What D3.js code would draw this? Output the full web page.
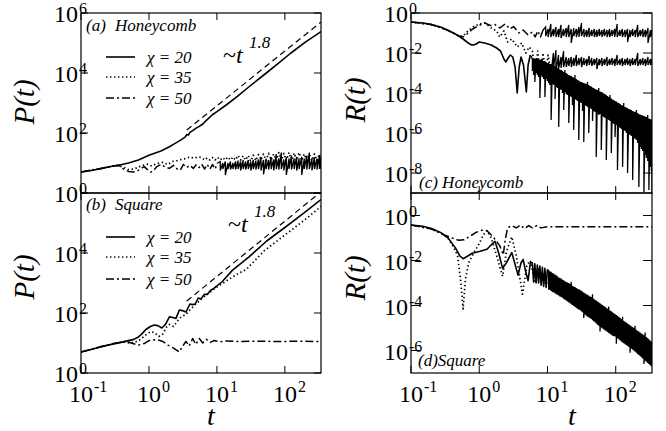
<!DOCTYPE html>
<html>
<head>
<meta charset="utf-8">
<script src="https://cdn.jsdelivr.net/npm/d3@7"></script>
<style>
  body { margin: 0; background: #fff; }
  svg { display: block; }
  svg text { font-family: "Liberation Serif", "Times New Roman", serif; fill: #000; }
</style>
</head>
<body>
<svg id="chart" width="666" height="431"></svg>
<script>
// values: each row is [t, log10 value];
// where the curve oscillates faster than the eye can follow a row is [t, log10 max, log10 min]

//x ticks (exponents of ten), shared by all panels
const xTickExps = [-1, 0, 1, 2];

// (a) P(t), honeycomb
const aChi20 = [[0.1,0.70],[0.15,0.76],[0.2,0.82],[0.3,0.90],[0.4,0.95],[0.5,1.00],[0.7,1.10],[1.0,1.26],[1.5,1.40],[2.0,1.54],[2.5,1.67],[3.0,1.78],[3.4,1.86],[3.6,1.95],[3.8,1.93],[4.0,2.02],[4.4,2.08],[5.0,2.17],[5.5,2.22],[6.2,2.3],[7,2.42],[8.5,2.6],[10,2.71],[14,2.95],[20,3.22],[30,3.55],[50,3.95],[80,4.32],[120,4.65],[200,5.03],[340,5.38]];
const aChi35 = [[0.1,0.70],[0.2,0.82],[0.3,0.90],[0.35,0.92],[0.42,0.86],[0.5,0.78],[0.6,0.80],[0.7,0.86],[0.8,0.92],[0.95,0.96],[1.1,0.9],[1.3,0.98],[1.6,1.02],[1.9,0.95],[2.2,1.05],[2.6,1.08],[3.0,1.12],[3.5,1.15],[4.0,1.2],[4.6,1.16],[5.3,1.2],
  [6.0,1.18],[6.6,1.1],[7.2,1.17],[7.9,1.1],[8.6,1.18],[9.4,1.1],[10.2,1.19],[11.2,1.1],[12.2,1.18],[13.3,1.1],[14.5,1.2],[15.8,1.1],[17.2,1.2],[18.8,1.1],[20.5,1.25],[22.3,1.1],[24.3,1.24],[26.5,1.1],[28.9,1.25],[31.5,1.06],[34.3,1.26],[37.4,1.08],[40.8,1.28],[44.5,1.1],[48.5,1.3],[52.8,1.08],[57.6,1.32],[62.8,1.1],[68.4,1.3],[74.6,1.08],[81.3,1.35],[88.6,1.08],[96.6,1.32],[105,1.08],[115,1.35],[125,1.08],[137,1.33],[149,1.08],[162,1.35],[177,1.08],[193,1.3],[210,1.08],[229,1.28],[250,1.08],[272,1.3],[297,1.08],[323,1.3],[340,1.08]];
const aChi50 = [[0.1,0.70],[0.2,0.82],[0.3,0.90],[0.36,0.92],[0.42,0.8],[0.5,0.72],[0.6,0.7],[0.7,0.76],[0.85,0.88],[0.95,0.78],[1.05,0.7],[1.15,0.72],[1.3,0.88],[1.5,0.95],[1.7,0.88],[2.0,0.82],[2.3,0.92],[2.6,0.8],[2.9,0.76],[3.2,0.95],[3.6,0.85],[4.0,0.92],[4.5,0.82],[5.0,0.95],[5.5,0.85],
  [6.0,0.95],[6.6,0.8],[7.2,0.95],[7.9,0.8],[8.6,0.95],[9.4,0.8],[10.2,1.0],
  [11.2,1.05,0.75],[12.2,1.0,0.8],[13.3,1.05,0.6],[14.5,1.0,0.8],[15.8,1.05,0.78],[17.2,1.0,0.8],[18.8,1.05,0.78],[20.5,1.08,0.8],[22.3,1.05,0.75],[24.3,1.1,0.8],[26.5,1.05,0.78],[28.9,1.1,0.8],[31.5,1.05,0.75],[34.3,1.1,0.8],[37.4,1.08,0.78],[40.8,1.12,0.8],[44.5,1.2,0.75],[48.5,1.1,0.62],[52.8,1.15,0.8],[57.6,1.1,0.78],[62.8,1.2,0.8],[68.4,1.12,0.75],[74.6,1.3,0.8],[81.3,1.15,0.78],[88.6,1.35,0.8],[96.6,1.12,0.75],[105,1.2,0.6],[115,1.15,0.8],[125,1.25,0.78],[137,1.15,0.8],[149,1.2,0.75],[162,1.15,0.8],[177,1.2,0.6],[193,1.15,0.8],[210,1.25,0.78],[229,1.35,0.8],[250,1.15,0.75],[272,1.2,0.8],[297,1.15,0.78],[323,1.25,0.8],[340,1.2,0.8]];
const aPowerLaw = [[3.6,2.1],[340,5.7]];

// (b) P(t), square
const bChi20 = [[0.1,0.70],[0.15,0.8],[0.2,0.88],[0.3,0.97],[0.4,1.03],[0.5,1.08],[0.6,1.12],[0.7,1.2],[0.8,1.32],[0.9,1.45],[1.05,1.55],[1.2,1.6],[1.35,1.58],[1.55,1.5],[1.75,1.62],[2.0,1.87],[2.25,1.85],[2.5,1.82],[2.8,2.1],[3.1,2.08],[3.5,2.03],[4.0,2.3],[4.4,2.28],[4.8,2.3],[5.3,2.5],[5.8,2.47],[6.5,2.62],[7.2,2.62],[8,2.75],[9,2.82],[10,2.9],[12,3.05],[17,3.43],[30,3.88],[54,4.4],[100,4.85],[200,5.37],[340,5.78]];
const bChi35 = [[0.1,0.7],[0.2,0.88],[0.3,0.97],[0.42,1.04],[0.52,1.0],[0.62,1.02],[0.75,1.12],[0.9,1.27],[1.05,1.38],[1.2,1.35],[1.4,1.22],[1.6,1.3],[1.8,1.52],[2.0,1.62],[2.3,1.55],[2.6,1.72],[3.0,1.88],[3.5,1.95],[4,2.1],[5,2.32],[7,2.6],[10,2.87],[20,3.3],[27,3.45],[50,4.08],[100,4.6],[200,5.12],[340,5.55]];
const bChi50 = [[0.1,0.7],[0.2,0.88],[0.3,0.98],[0.45,1.05],[0.55,1.0],[0.7,0.93],[0.85,0.98],[1.0,1.08],[1.3,1.12],[1.6,1.05],[1.9,0.93],[2.3,0.83],[2.8,0.7],[3.1,0.88],[3.5,1.05],[3.9,0.9],[4.4,1.15],[4.9,0.95],[5.5,1.15],[6.2,1.0],[7,1.12],[8,1.02],[9,1.08],[11,1.04],[14,1.07],[20,1.05],[40,1.06],[80,1.05],[160,1.06],[340,1.05]];
const bPowerLaw = [[3.6,2.4],[340,6.04]];

// (c) R(t), honeycomb
const cChi20 = [[0.1,-0.45],[0.15,-0.5],[0.2,-0.58],[0.27,-0.7],[0.34,-0.85],[0.42,-1.0],[0.5,-1.15],[0.58,-1.3],[0.66,-1.45],[0.75,-1.58],[0.82,-1.6],[0.9,-1.55],[1.0,-1.45],[1.2,-1.5],[1.5,-1.6],[1.8,-1.75],[2.05,-1.9],[2.3,-2.3],[2.45,-2.45],[2.6,-2.3],[2.85,-2.1],[3.1,-2.2],[3.35,-2.7],[3.6,-4.0],[3.85,-2.7],[4.1,-2.2],[4.45,-2.6],[4.9,-3.95],[5.2,-2.6],[5.6,-2.1],
  [6.0,-2.3,-2.9],[6.26,-2.25,-3.1],[6.53,-2.3,-3.45],[6.81,-2.25,-3.0],[7.1,-2.3,-3.1],[7.41,-2.3,-3.2],[7.73,-2.35,-4.25],[8.07,-2.3,-3.1],[8.41,-2.35,-3.2],[8.78,-2.4,-3.3],[9.16,-2.4,-4.2],[9.55,-2.45,-3.3],[9.97,-2.5,-3.4],[10.4,-2.5,-3.5],[10.8,-2.55,-3.6],[11.3,-2.55,-5.35],[11.8,-2.6,-3.55],[12.3,-2.6,-3.6],[12.9,-2.65,-4.3],[13.4,-2.7,-3.7],[14.0,-2.75,-3.75],[14.6,-2.8,-5.7],[15.2,-2.82,-3.8],[15.9,-2.85,-3.85],[16.6,-2.9,-4.0],[17.3,-2.95,-4.85],[18.0,-2.85,-3.95],[18.8,-3.0,-4.05],[19.6,-3.05,-4.1],[20.5,-3.1,-5.5],[21.4,-3.12,-4.15],[22.3,-3.15,-4.2],[23.2,-3.2,-4.6],[24.2,-3.22,-5.85],[25.3,-3.1,-4.3],[26.4,-3.3,-4.35],[27.5,-3.35,-4.4],[28.7,-3.38,-6.35],[29.9,-3.42,-4.45],[31.2,-3.45,-4.5],[32.6,-3.48,-4.9],[34.0,-3.5,-6.45],[35.4,-3.52,-4.6],[37.0,-3.55,-4.65],[38.6,-3.45,-4.7],[40.2,-3.6,-6.0],[42.0,-3.65,-4.75],[43.8,-3.68,-4.8],[45.7,-3.72,-5.4],[47.6,-3.75,-4.9],[49.7,-3.8,-4.95],[51.8,-3.82,-7.2],[54.1,-3.85,-5.0],[56.4,-3.75,-5.1],[58.8,-3.92,-5.05],[61.4,-3.95,-6.85],[64.0,-3.98,-5.15],[66.8,-4.02,-5.2],[69.7,-4.05,-5.25],[72.7,-4.1,-7.35],[75.8,-4.15,-5.3],[79.1,-4.2,-5.35],[82.5,-4.1,-5.4],[86.1,-4.28,-7.0],[89.8,-4.32,-5.5],[93.7,-4.35,-5.55],[97.7,-4.4,-6.2],[102,-4.42,-5.6],[106,-4.48,-7.85],[111,-4.5,-5.7],[116,-4.55,-5.75],[121,-4.6,-5.8],[126,-4.62,-7.7],[131,-4.5,-5.85],[137,-4.7,-5.9],[143,-4.72,-6.0],[149,-4.75,-8.0],[156,-4.8,-6.05],[162,-4.82,-6.1],[169,-4.85,-6.15],[177,-4.9,-8.35],[184,-4.92,-6.25],[192,-4.95,-6.3],[201,-4.85,-6.35],[209,-5.0,-6.5],[218,-5.05,-8.7],[228,-5.08,-6.7],[238,-5.1,-6.8],[248,-5.12,-6.9],[259,-5.15,-8.95],[270,-5.18,-7.1],[281,-5.2,-7.25],[294,-5.1,-7.4],[306,-5.28,-8.85],[319,-5.3,-7.7],[333,-5.33,-7.9],[340,-5.35,-9.0]];
const cChi35 = [[0.1,-0.45],[0.2,-0.58],[0.34,-0.85],[0.5,-1.15],[0.58,-1.15],[0.66,-0.95],[0.8,-0.7],[1.0,-0.55],[1.2,-0.5],[1.5,-0.75],[1.8,-0.9],[2.0,-1.2],[2.3,-0.9],[2.6,-1.45],[3.0,-1.3],[3.6,-1.7],[4.2,-1.5],[4.8,-2.0],[5.4,-1.7],
  [6.0,-1.9],[6.6,-2.9],[7.2,-1.9],[7.9,-3.2],[8.6,-2.0],[9.4,-3.0],[10.2,-2.1],[11.2,-3.1],
  [12.2,-2.0,-2.8],[13.3,-1.85,-2.9],[14.5,-2.1,-2.8],[15.8,-2.2,-2.75],[17.2,-1.9,-2.7],[18.8,-2.2,-2.7],[20.5,-2.25,-2.65],[22.3,-2.2,-2.7],[24.3,-2.25,-2.65],[26.5,-2.1,-2.65],[28.9,-2.25,-2.6],[31.5,-2.2,-2.7],[34.3,-2.25,-2.6],[37.4,-2.3,-2.65],[40.8,-2.15,-2.6],[44.5,-2.25,-2.65],[48.5,-2.3,-2.6],[52.8,-2.25,-2.8],[57.6,-2.3,-2.6],[62.8,-2.25,-2.65],[68.4,-2.3,-2.6],[74.6,-2.2,-2.65],[81.3,-2.3,-2.6],[88.6,-2.25,-2.6],[96.6,-2.3,-2.65],[105,-2.1,-2.6],[115,-2.3,-2.6],[125,-2.25,-2.65],[137,-2.3,-2.6],[149,-2.25,-2.6],[162,-2.3,-2.65],[177,-2.25,-2.6],[193,-2.3,-2.6],[210,-2.0,-2.65],[229,-2.3,-2.6],[250,-2.25,-2.6],[272,-2.3,-2.65],[297,-2.2,-2.6],[323,-2.3,-2.6],[340,-2.3,-2.6]];
const cChi50 = [[0.1,-0.45],[0.2,-0.58],[0.34,-0.85],[0.5,-1.15],[0.58,-1.2],[0.66,-1.05],[0.8,-0.8],[1.0,-0.62],[1.2,-0.5],[1.45,-0.62],[1.7,-0.58],[2.0,-0.75],[2.4,-0.55],[2.8,-0.8],[3.2,-0.68],[3.8,-1.0],[4.4,-0.85],[5.2,-1.1],
  [6.0,-0.95],[6.6,-1.2],[7.2,-0.9],[7.9,-1.2],[8.6,-0.85],
  [9.4,-0.7,-1.15],[10.2,-0.8,-1.2],[11.2,-0.55,-1.2],[12.2,-0.8,-1.15],[13.3,-0.7,-1.2],[14.5,-0.8,-1.2],[15.8,-0.6,-1.25],[17.2,-0.8,-1.15],[18.8,-0.75,-1.2],[20.5,-0.6,-1.2],[22.3,-0.8,-1.5],[24.3,-0.75,-1.15],[26.5,-0.8,-1.2],[28.9,-0.7,-1.2],[31.5,-0.5,-1.15],[34.3,-0.8,-1.2],[37.4,-0.85,-1.2],[40.8,-0.75,-1.2],[44.5,-0.85,-1.15],[48.5,-0.8,-1.2],[52.8,-0.85,-1.2],[57.6,-0.8,-1.15],[62.8,-0.85,-1.2],[68.4,-0.8,-1.15],[74.6,-0.85,-1.2],[81.3,-0.8,-1.2],[88.6,-0.85,-1.15],[96.6,-0.8,-1.2],[105,-0.55,-1.2],[115,-0.85,-1.15],[125,-0.8,-1.2],[137,-0.85,-1.2],[149,-0.8,-1.45],[162,-0.85,-1.2],[177,-0.8,-1.15],[193,-0.85,-1.2],[210,-0.6,-1.2],[229,-0.85,-1.15],[250,-0.8,-1.2],[272,-0.85,-1.2],[297,-0.75,-1.5],[323,-0.85,-1.2],[340,-0.85,-1.15]];

// (d) R(t), square
const dChi20 = [[0.1,-0.42],[0.15,-0.48],[0.2,-0.58],[0.27,-0.75],[0.35,-1.0],[0.45,-1.45],[0.52,-1.8],[0.58,-1.92],[0.68,-1.8],[0.79,-1.68],[1.0,-1.6],[1.3,-1.5],[1.5,-1.3],[1.7,-1.15],[1.9,-1.6],[2.2,-2.35],[2.5,-2.1],[3.0,-1.65],[3.3,-2.1],[3.7,-2.65],[4.1,-2.1],[4.4,-1.95],[4.8,-2.5],[5.2,-2.9],[5.6,-2.1],
  [6.0,-2.1],[6.26,-2.95],[6.53,-2.15],[6.81,-3.0],[7.1,-2.2],[7.41,-3.0],[7.73,-2.25],[8.07,-3.1],[8.41,-2.3],[8.78,-3.15],[9.16,-2.35],[9.55,-3.2],[9.97,-2.4],
  [10.4,-2.45,-3.3],[10.8,-2.48,-3.3],[11.3,-2.5,-3.35],[11.8,-2.55,-3.4],[12.3,-2.58,-3.42],[12.9,-2.62,-3.45],[13.4,-2.65,-3.5],[14.0,-2.7,-3.52],[14.6,-2.75,-3.55],[15.2,-2.78,-3.6],[15.9,-2.8,-3.62],[16.6,-2.85,-3.66],[17.3,-2.88,-3.7],[18.0,-2.92,-3.74],[18.8,-2.95,-3.78],[19.6,-2.98,-3.82],[20.5,-3.0,-3.86],[21.4,-3.04,-3.9],[22.3,-2.95,-3.94],[23.2,-3.12,-3.98],[24.2,-3.15,-4.02],[25.3,-3.18,-4.06],[26.4,-3.22,-4.1],[27.5,-3.25,-4.14],[28.7,-3.28,-4.18],[29.9,-3.3,-4.2],[31.2,-3.34,-4.25],[32.6,-3.38,-4.3],[34.0,-3.42,-4.55],[35.4,-3.45,-4.4],[37.0,-3.5,-4.45],[38.6,-3.52,-4.5],[40.2,-3.55,-4.52],[42.0,-3.6,-4.56],[43.8,-3.62,-4.6],[45.7,-3.5,-4.65],[47.6,-3.7,-4.7],[49.7,-3.74,-4.74],[51.8,-3.78,-4.8],[54.1,-3.82,-4.85],[56.4,-3.86,-4.9],[58.8,-3.9,-5.15],[61.4,-3.94,-4.98],[64.0,-3.98,-5.02],[66.8,-4.02,-5.06],[69.7,-4.06,-5.1],[72.7,-4.1,-5.14],[75.8,-4.14,-5.18],[79.1,-4.05,-5.22],[82.5,-4.22,-5.26],[86.1,-4.26,-5.3],[89.8,-4.3,-5.34],[93.7,-4.34,-5.36],[97.7,-4.38,-5.38],[102,-4.42,-5.7],[106,-4.46,-5.45],[111,-4.5,-5.5],[116,-4.55,-5.55],[121,-4.6,-5.6],[126,-4.5,-5.64],[131,-4.68,-5.68],[137,-4.72,-5.72],[143,-4.76,-5.76],[149,-4.8,-5.8],[156,-4.84,-5.84],[162,-4.88,-6.1],[169,-4.92,-5.92],[177,-4.96,-5.96],[184,-5.0,-6.0],[192,-4.9,-6.05],[201,-5.08,-6.1],[209,-5.12,-6.15],[218,-5.16,-6.2],[228,-5.2,-6.25],[238,-5.24,-6.3],[248,-5.28,-6.35],[259,-5.32,-6.6],[270,-5.2,-6.45],[281,-5.4,-6.5],[294,-5.45,-6.55],[306,-5.5,-6.6],[319,-5.55,-6.65],[333,-5.6,-6.7],[340,-5.62,-6.72]];
const dChi35 = [[0.1,-0.42],[0.2,-0.6],[0.3,-0.85],[0.35,-1.02],[0.42,-1.4],[0.48,-1.78],[0.53,-2.8],[0.58,-4.15],[0.63,-2.8],[0.7,-2.1],[0.85,-1.6],[0.97,-1.33],[1.15,-0.85],[1.3,-0.67],[1.5,-1.0],[1.8,-1.8],[2.2,-2.7],[2.5,-1.6],[3.0,-0.95],[3.5,-1.8],[4.3,-3.5],[5.0,-2.2],[5.6,-2.0],[6.5,-3.0],[7.5,-2.3],[8.5,-3.0],[12,-3.0],[30,-3.8],[100,-4.9],[340,-6.1]];
const dChi50 = [[0.1,-0.42],[0.2,-0.6],[0.3,-0.85],[0.4,-1.0],[0.5,-1.1],[0.6,-1.08],[0.75,-0.9],[0.9,-0.75],[1.1,-0.65],[1.3,-0.68],[1.6,-0.95],[2.0,-1.35],[2.25,-1.75],[2.4,-1.1],[2.6,-0.55],[3.0,-0.45],[3.5,-0.55],[4.0,-0.42],[4.6,-0.58],[5.3,-0.45],[6,-0.55],[7,-0.45],[8,-0.55],[10,-0.5],[340,-0.5]];

// legend entries
const legendNames = ["\u03c7 = 20", "\u03c7 = 35", "\u03c7 = 50"];
const legendStyles = ["solid", "dotted", "dashdot"];

//line styles
const styles = {
  solid: { dash: null, width: 1.6 },
  dotted: { dash: "1.4,2.6", width: 1.7 },
  dashdot: { dash: "8,3,2,3", width: 1.5 },
  dashed: { dash: "6,4", width: 1.2 }
};
const fontFamily = "'Liberation Serif', 'Times New Roman', serif";

//panel layout
const panels = [
  { key: "a", left: 81, right: 321, top: 13, bottom: 193, yDomain: [1, 1e6], yTicks: [0, 2, 4, 6], yLabels: [0, 2, 4, 6], xLabels: false,
    yTickLen: 7, series: [[aChi50, "dashdot"], [aChi35, "dotted"], [aPowerLaw, "dashed"], [aChi20, "solid"]],
    title: "P(t)", titleX: 34, titleY: 102, legendY: [57, 77, 98], tag: "(a)", name: "Honeycomb", tagY: 31, powX: 223, powY: 63 },
  { key: "b", left: 81, right: 321, top: 193, bottom: 373, yDomain: [1, 1e6], yTicks: [0, 2, 4, 6], yLabels: [0, 2, 4], xLabels: true,
    yTickLen: 7, series: [[bChi50, "dashdot"], [bChi35, "dotted"], [bPowerLaw, "dashed"], [bChi20, "solid"]],
    title: "P(t)", titleX: 34, titleY: 277, legendY: [237, 257, 279], tag: "(b)", name: "Square", tagY: 210, powX: 228, powY: 232, tX: 211 },
  { key: "c", left: 411, right: 652, top: 13, bottom: 193, yDomain: [1e-9, 1], yTicks: [-8, -6, -4, -2, 0], yLabels: [-8, -6, -4, -2, 0], xLabels: false,
    yTickLen: 9, series: [[cChi50, "dashdot"], [cChi35, "dotted"], [cChi20, "solid"]],
    title: "R(t)", titleX: 365, titleY: 100, tagText: "(c) Honeycomb", tagX: 419, tagY: 188 },
  { key: "d", left: 411, right: 652, top: 193, bottom: 373, yDomain: [1e-7, 10], yTicks: [-6, -4, -2, 0], yLabels: [-6, -4, -2, 0], xLabels: true,
    yTickLen: 9, series: [[dChi50, "dashdot"], [dChi35, "dotted"], [dChi20, "solid"]],
    title: "R(t)", titleX: 365, titleY: 278, tagText: "(d)Square", tagX: 418, tagY: 366, tX: 572 }
];

const svg = d3.select("#chart").attr("font-family", fontFamily);
const xTickLen = 7;

panels.forEach(drawPanel);

function drawPanel(p) {
  const x = d3.scaleLog().domain([0.1, 340]).range([p.left, p.right]);
  const y = d3.scaleLog().domain(p.yDomain).range([p.bottom, p.top]);

  //clip curves to the frame
  svg.append("clipPath").attr("id", "clip-" + p.key)
    .append("rect").attr("x", p.left).attr("y", p.top)
    .attr("width", p.right - p.left).attr("height", p.bottom - p.top);

  const line = d3.line()
    .x(d => x(d[0]))
    .y(d => y(Math.pow(10, d[1])));

  //rows with a max and a min visit both at the same t
  const flatten = rows => rows.flatMap(r => r.slice(1).map(v => [r[0], v]));

  const g = svg.append("g").attr("clip-path", `url(#clip-${p.key})`);
  p.series.forEach(([rows, style]) => {
    const s = styles[style];
    const resolved = rows.filter(r => r.length === 2);
    const dense = rows.filter(r => r.length === 3);
    g.append("path")
      .attr("d", line(resolved))
      .attr("fill", "none")
      .attr("stroke", "#000")
      .attr("stroke-width", s.width)
      .attr("stroke-linejoin", "round")
      .attr("stroke-dasharray", s.dash);
    //too dense for the dash pattern to show: the band inks solid
    if (dense.length) {
      g.append("path")
        .attr("d", line(flatten([resolved[resolved.length - 1]].concat(dense))))
        .attr("fill", "none")
        .attr("stroke", "#000")
        .attr("stroke-width", 1.3);
    }
  });

  //frame
  svg.append("rect")
    .attr("x", p.left).attr("y", p.top)
    .attr("width", p.right - p.left).attr("height", p.bottom - p.top)
    .attr("fill", "none").attr("stroke", "#000").attr("stroke-width", 1.2);

  //x ticks, inward on top and bottom
  xTickExps.forEach(e => {
    const px = x(Math.pow(10, e));
    svg.append("line").attr("x1", px).attr("x2", px)
      .attr("y1", p.bottom).attr("y2", p.bottom - xTickLen).attr("stroke", "#000");
    svg.append("line").attr("x1", px).attr("x2", px)
      .attr("y1", p.top).attr("y2", p.top + xTickLen).attr("stroke", "#000");
    if (p.xLabels) {
      svg.append("text").attr("x", px).attr("y", p.bottom + 29)
        .attr("text-anchor", "middle").style("font-size", "24px").text("10");
      svg.append("text").attr("x", px + 13).attr("y", p.bottom + 19)
        .style("font-size", "16px").text(e < 0 ? "-" + -e : e);
    }
  });

  //y ticks, inward on left and right
  p.yTicks.forEach(e => {
    const py = y(Math.pow(10, e));
    svg.append("line").attr("x1", p.left).attr("x2", p.left + p.yTickLen)
      .attr("y1", py).attr("y2", py).attr("stroke", "#000");
    svg.append("line").attr("x1", p.right).attr("x2", p.right - p.yTickLen)
      .attr("y1", py).attr("y2", py).attr("stroke", "#000");
  });
  p.yLabels.forEach(e => {
    const py = y(Math.pow(10, e));
    svg.append("text").attr("x", p.left - 3).attr("y", py + 9)
      .attr("text-anchor", "end").style("font-size", "24px").text("10");
    svg.append("text").attr("x", p.left - 2).attr("y", py + 1)
      .style("font-size", "16px").text(e < 0 ? "-" + -e : e);
  });

  //axis titles
  svg.append("text")
    .attr("transform", `translate(${p.titleX},${p.titleY}) rotate(-90)`)
    .attr("text-anchor", "middle")
    .style("font-size", "29px").style("font-style", "italic")
    .text(p.title);

  if (p.xLabels) {
    svg.append("text").attr("x", p.tX).attr("y", 425)
      .attr("text-anchor", "middle")
      .style("font-size", "28px").style("font-style", "italic").text("t");
  }

  //panel tag
  if (p.tag) {
    svg.append("text").attr("x", 86).attr("y", p.tagY)
      .style("font-size", "17px").style("font-style", "italic").text(p.tag);
    svg.append("text").attr("x", 115).attr("y", p.tagY)
      .style("font-size", "17px").style("font-style", "italic").text(p.name);
  } else {
    svg.append("text").attr("x", p.tagX).attr("y", p.tagY)
      .style("font-size", "17px").style("font-style", "italic").text(p.tagText);
  }

  //legend and power law note on the P(t) panels
  if (p.legendY) {
    p.legendY.forEach((ly, i) => {
      const s = styles[legendStyles[i]];
      svg.append("line").attr("x1", 106).attr("x2", 135)
        .attr("y1", ly).attr("y2", ly)
        .attr("stroke", "#000").attr("stroke-width", s.width)
        .attr("stroke-dasharray", s.dash);
      svg.append("text").attr("x", 147).attr("y", ly + 6)
        .style("font-size", "17px").style("font-style", "italic")
        .text(legendNames[i]);
    });
    const note = svg.append("text").attr("x", p.powX).attr("y", p.powY)
      .style("font-size", "24px");
    note.append("tspan").text("~");
    note.append("tspan").style("font-style", "italic").text("t");
    svg.append("text").attr("x", p.powX + 26).attr("y", p.powY - 15)
      .style("font-size", "17px").style("font-style", "italic").text("1.8");
  }
}
</script>
</body>
</html>
